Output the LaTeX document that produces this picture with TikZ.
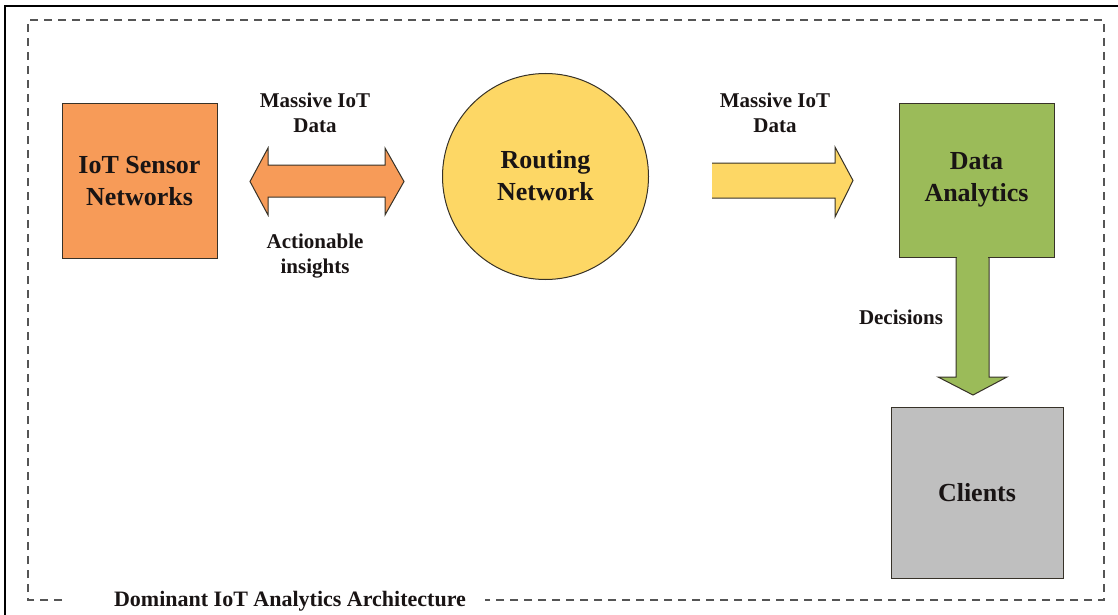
\documentclass[tikz,border=0pt]{standalone}
\usepackage{fontspec}
\setmainfont{Liberation Serif}
\definecolor{orangefill}{RGB}{247,155,88}
\definecolor{yellowfill}{RGB}{253,215,101}
\definecolor{greenfill}{RGB}{155,187,89}
\definecolor{grayfill}{RGB}{191,191,191}
\definecolor{edge}{RGB}{55,50,40}
\definecolor{txt}{RGB}{25,20,20}
\definecolor{dashgray}{RGB}{85,85,85}
\tikzset{
  boxlabel/.style={font=\fontsize{26}{32}\selectfont\bfseries, text=txt, align=center, inner sep=0pt},
  arrlabel/.style={font=\fontsize{21}{25}\selectfont\bfseries, text=txt, align=center, inner sep=0pt},
  block/.style={draw=edge, line width=1pt},
  frameline/.style={draw=dashgray, line width=1.3pt, dash pattern=on 8pt off 6pt},
}
\begin{document}
\begin{tikzpicture}[x=1pt,y=-1pt]
\useasboundingbox (0,0) rectangle (1118,615);
% outer solid frame
\draw[line width=2.2pt, black] (5,615) -- (5,6) -- (1118,6);
% dashed frame
\draw[frameline] (62,600) -- (28,600) -- (28,20) -- (1104,20) -- (1104,600) -- (485,600);
\node[font=\fontsize{22}{26}\selectfont\bfseries, text=txt, inner sep=0pt] (title) at (290,601) {Dominant IoT Analytics Architecture};

% boxes
\draw[block, fill=orangefill] (62,104) rectangle (217,258);
\node[boxlabel] (sensor) at (139.5,181) {IoT Sensor\\Networks};

\draw[block, fill=yellowfill] (545.5,176.5) circle (103);
\node[boxlabel] (routing) at (545.5,176) {Routing\\Network};

% down arrow (drawn under analytics box)
\fill[greenfill] (956,250) -- (956,377) -- (938,377) -- (973,395) -- (1007,377) -- (989,377) -- (989,250) -- cycle;
\draw[block, fill=greenfill] (899,104) rectangle (1054,257);
\fill[greenfill] (956.6,250) rectangle (988.4,262);
\draw[block, line join=miter] (956,257) -- (956,377) -- (938,377) -- (973,395) -- (1007,377) -- (989,377) -- (989,257);
\node[boxlabel] (analytics) at (976.5,180) {Data\\Analytics};

\draw[block, fill=grayfill] (891,407) rectangle (1063,578);
\node[boxlabel] (clients) at (977,493) {Clients};

% double arrow
\draw[block, fill=orangefill, line join=miter] (250,181.5) -- (268,148) -- (268,165) -- (385,165) -- (385,148) -- (404,181.5) -- (385,215) -- (385,197) -- (268,197) -- (268,215) -- cycle;
\node[arrlabel] (lab1) at (315,113) {Massive IoT\\Data};
\node[arrlabel] (lab2) at (315,256) {Actionable\\insights};

% right arrow
\fill[yellowfill] (712,163) -- (835,163) -- (835,147) -- (853,180.5) -- (835,217) -- (835,198) -- (712,198) -- cycle;
\draw[block, line join=miter] (712,163) -- (835,163) -- (835,147) -- (853,180.5) -- (835,217) -- (835,198) -- (712,198);
\node[arrlabel] (lab3) at (775,113) {Massive IoT\\Data};

\node[arrlabel] (lab4) at (901,317) {Decisions};
\end{tikzpicture}
\end{document}
